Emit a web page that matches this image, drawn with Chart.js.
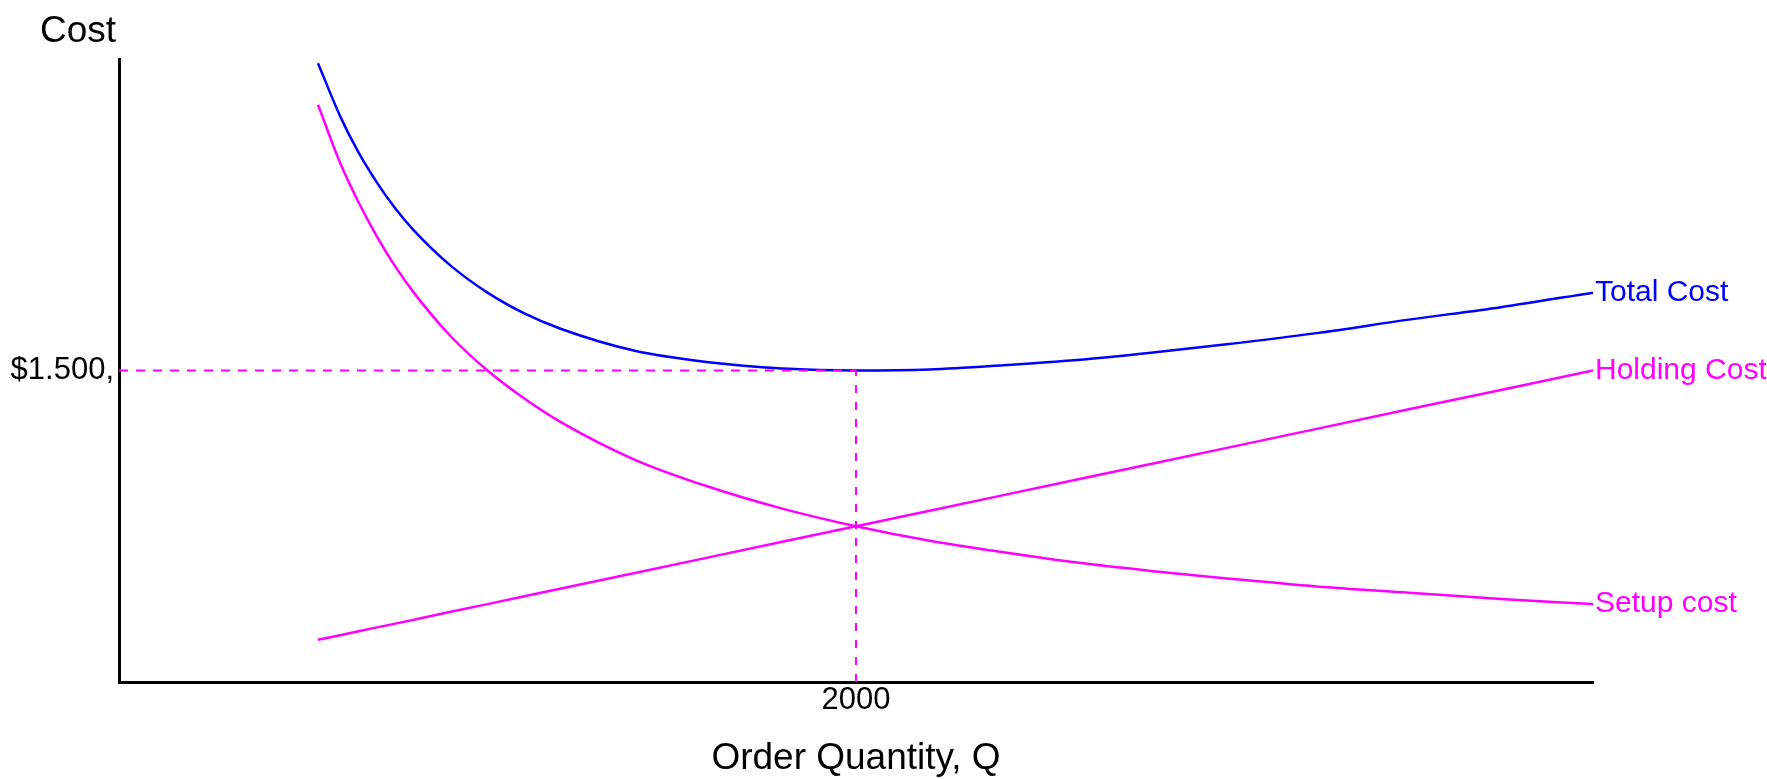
<!DOCTYPE html>
<html>
<head>
<meta charset="utf-8">
<title>EOQ cost curves</title>
<script src="https://cdn.jsdelivr.net/npm/chart.js@4"></script>
<style>
  html, body { margin: 0; padding: 0; background: #fff; }
  #chart { display: block; }
</style>
</head>
<body>
<canvas id="chart" width="1767" height="779"></canvas>
<script>
// === Data ===
const quantities  = [540, 600, 650, 700, 750, 800, 900, 1000, 1100, 1200, 1400, 1600, 1800, 2000, 2200, 2400, 2600, 2800, 3000, 3250, 3500, 3750, 4000];
const setupCost   = [2780, 2500, 2310, 2145, 2000, 1875, 1665, 1500, 1365, 1250, 1070, 940, 835, 750, 680, 625, 575, 535, 500, 460, 430, 400, 375];
const holdingCost = [203, 225, 244, 263, 281, 300, 338, 375, 413, 450, 525, 600, 675, 750, 825, 900, 975, 1050, 1125, 1219, 1313, 1406, 1500];
const totalCost   = [2980, 2725, 2550, 2405, 2280, 2175, 2005, 1875, 1775, 1700, 1595, 1540, 1510, 1500, 1505, 1525, 1550, 1585, 1625, 1680, 1745, 1805, 1875];

const optimalQ = 2000;
const optimalCost = 1500;

const xTickValues = [2000];
const xTickLabels = ['2000'];
const yTickValues = [1500];
const yTickLabels = ['$1.500,'];

const xAxisTitle = 'Order Quantity, Q';
const yAxisTitle = 'Cost';

const BLUE = '#0000ff';
const MAGENTA = '#ff00ff';
const FONT = '"Liberation Sans", Arial, sans-serif';

const toPoints = (xs, ys) => xs.map((x, i) => ({ x: x, y: ys[i] }));

// labels at the end of each curve + the "Cost" title in the corner
const curveLabels = {
  id: 'curveLabels',
  afterDatasetsDraw(chart) {
    const ctx = chart.ctx;
    ctx.save();
    ctx.font = '30px ' + FONT;
    ctx.textAlign = 'left';
    ctx.textBaseline = 'middle';
    chart.data.datasets.forEach((ds, i) => {
      if (!ds.endLabel) return;
      const pts = chart.getDatasetMeta(i).data;
      const last = pts[pts.length - 1];
      ctx.fillStyle = ds.borderColor;
      ctx.fillText(ds.label, last.x + 2, last.y);
    });
    ctx.fillStyle = '#000';
    ctx.font = '37px ' + FONT;
    ctx.textBaseline = 'alphabetic';
    ctx.fillText(yAxisTitle, 40, 42);
    ctx.restore();
  }
};

new Chart(document.getElementById('chart'), {
  type: 'line',
  data: {
    datasets: [
      {
        label: 'guide-h',
        data: [{ x: 0, y: optimalCost }, { x: optimalQ, y: optimalCost }],
        borderColor: MAGENTA,
        borderWidth: 2,
        borderDash: [9, 8],
        order: 0
      },
      {
        label: 'guide-v',
        data: [{ x: optimalQ, y: 0 }, { x: optimalQ, y: optimalCost }],
        borderColor: MAGENTA,
        borderWidth: 2,
        borderDash: [8, 9],
        order: 0
      },
      {
        label: 'Total Cost',
        data: toPoints(quantities, totalCost),
        borderColor: BLUE,
        borderWidth: 2.5,
        cubicInterpolationMode: 'monotone',
        endLabel: true,
        order: 1
      },
      {
        label: 'Holding Cost',
        data: toPoints(quantities, holdingCost),
        borderColor: MAGENTA,
        borderWidth: 2.5,
        endLabel: true,
        order: 1
      },
      {
        label: 'Setup cost',
        data: toPoints(quantities, setupCost),
        borderColor: MAGENTA,
        borderWidth: 2.5,
        cubicInterpolationMode: 'monotone',
        endLabel: true,
        order: 1
      }
    ]
  },
  options: {
    responsive: false,
    animation: false,
    devicePixelRatio: 1,
    layout: { padding: { top: 59, right: 174, left: 0, bottom: 0 } },
    elements: { point: { radius: 0 }, line: { fill: false } },
    plugins: { legend: { display: false }, tooltip: { enabled: false } },
    scales: {
      x: {
        type: 'linear',
        min: 0,
        max: 4000,
        grid: { display: false, drawTicks: false },
        border: { display: true, color: '#000', width: 3 },
        afterBuildTicks: (scale) => { scale.ticks = xTickValues.map(v => ({ value: v })); },
        afterFit: (scale) => { scale.height = 97; },
        ticks: {
          padding: 0,
          color: '#000',
          font: { family: FONT, size: 31 },
          callback: (v) => xTickLabels[xTickValues.indexOf(v)]
        },
        title: {
          display: true,
          text: xAxisTitle,
          color: '#000',
          font: { family: FONT, size: 37, lineHeight: 1.1 },
          padding: 0
        }
      },
      y: {
        type: 'linear',
        min: 0,
        max: 3000,
        grid: { display: false, drawTicks: false },
        border: { display: true, color: '#000', width: 3 },
        afterBuildTicks: (scale) => { scale.ticks = yTickValues.map(v => ({ value: v })); },
        afterFit: (scale) => { scale.width = 119; },
        ticks: {
          padding: 5,
          color: '#000',
          font: { family: FONT, size: 31 },
          callback: (v) => yTickLabels[yTickValues.indexOf(v)]
        }
      }
    }
  },
  plugins: [curveLabels]
});
</script>
</body>
</html>
